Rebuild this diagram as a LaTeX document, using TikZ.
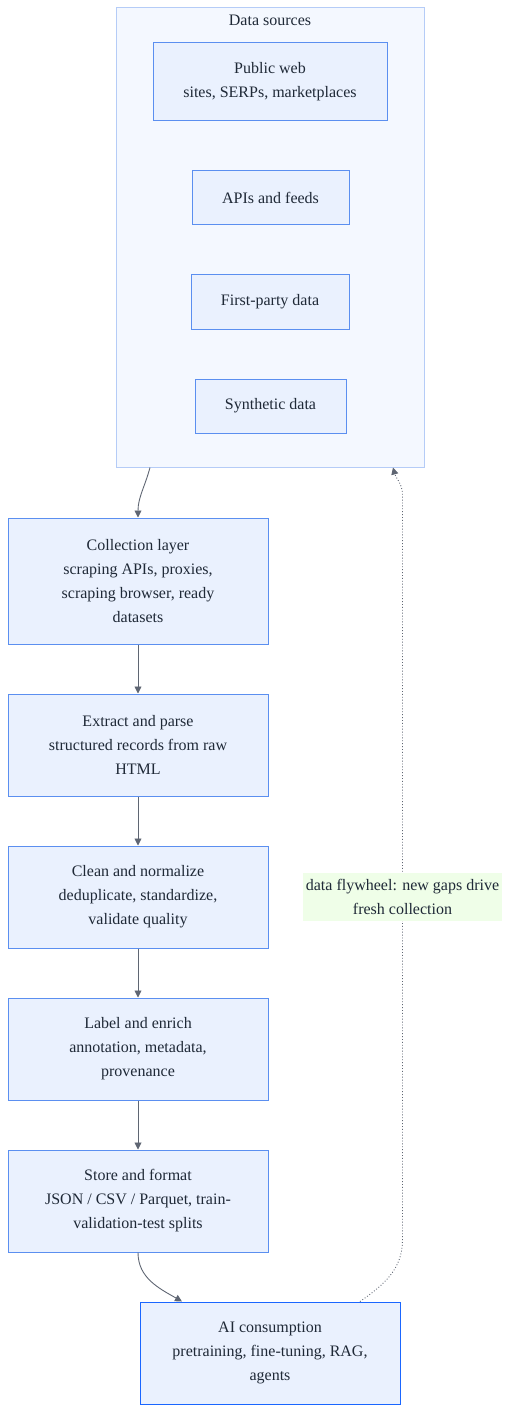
\documentclass[tikz,border=0pt]{standalone}
\usepackage{fontspec}
\setmainfont{Liberation Serif}
\usepackage{tikz}
\usetikzlibrary{arrows.meta,calc}
\definecolor{boxfill}{HTML}{EAF1FE}
\definecolor{boxline}{HTML}{5B8FF0}
\definecolor{srcfill}{HTML}{F4F8FF}
\definecolor{srcline}{HTML}{B5CCF7}
\definecolor{endline}{HTML}{1A66FF}
\definecolor{inkc}{HTML}{1F2937}
\definecolor{edgec}{HTML}{5F6673}
\definecolor{notefill}{HTML}{EFFEE8}

\begin{document}
\begin{tikzpicture}[x=1pt,y=-1pt,
  every node/.style={font=\fontsize{16}{24}\selectfont, text=inkc, align=center, inner sep=0pt},
  stage/.style={draw=boxline, fill=boxfill, line width=1pt, minimum width=260pt, minimum height=102pt},
  srcbox/.style={draw=boxline, fill=boxfill, line width=1pt, minimum height=54pt},
  flow/.style={draw=edgec, line width=0.9pt, -{Triangle[length=7pt,width=7pt]}},
  loopback/.style={draw=edgec, line width=0.9pt, dotted, -{Triangle[length=7pt,width=7pt]}}]
\useasboundingbox (0,0) rectangle (511,1412);

% data sources
\node[draw=srcline, fill=srcfill, line width=1pt, minimum width=308pt, minimum height=459pt] (src) at (270,237.5) {};
\node (srctitle) at (270,20.5) {Data sources};
\node[srcbox, minimum width=234pt, minimum height=78pt] (web) at (270,82) {Public web\\sites, SERPs, marketplaces};
\node[srcbox, minimum width=157pt] (apis) at (270.5,198) {APIs and feeds};
\node[srcbox, minimum width=158pt] (firstparty) at (270,302) {First-party data};
\node[srcbox, minimum width=151pt] (synth) at (270.5,406) {Synthetic data};

% pipeline
\node[stage, minimum height=126pt] (collect) at (138,581) {Collection layer\\scraping APIs, proxies,\\scraping browser, ready\\datasets};
\node[stage] (extract) at (138,745) {Extract and parse\\structured records from raw\\HTML};
\node[stage] (clean) at (138,897) {Clean and normalize\\deduplicate, standardize,\\validate quality};
\node[stage] (label) at (138,1049) {Label and enrich\\annotation, metadata,\\provenance};
\node[stage] (store) at (138,1201) {Store and format\\JSON / CSV / Parquet, train-\\validation-test splits};
\node[stage, draw=endline] (consume) at (270,1353) {AI consumption\\pretraining, fine-tuning, RAG,\\agents};

\draw[flow] ([xshift=-120pt]src.south) to[out=-105,in=90] (collect.north);
\draw[flow] (collect) -- (extract);
\draw[flow] (extract) -- (clean);
\draw[flow] (clean) -- (label);
\draw[flow] (label) -- (store);
\draw[flow] (store.south) to[out=-90,in=150] ([xshift=-88pt]consume.north);

% flywheel
\coordinate (flylow) at (402.5,1240);
\coordinate (flyhigh) at (402.5,495);
\draw[loopback] ([xshift=90pt]consume.north) to[out=35,in=-90] (flylow) -- (flyhigh) to[out=90,in=-75] ([xshift=123pt]src.south);
\node[fill=notefill, minimum width=199pt, minimum height=48pt] (flywheel) at (402.5,897) {data flywheel: new gaps drive\\fresh collection};
\end{tikzpicture}
\end{document}
